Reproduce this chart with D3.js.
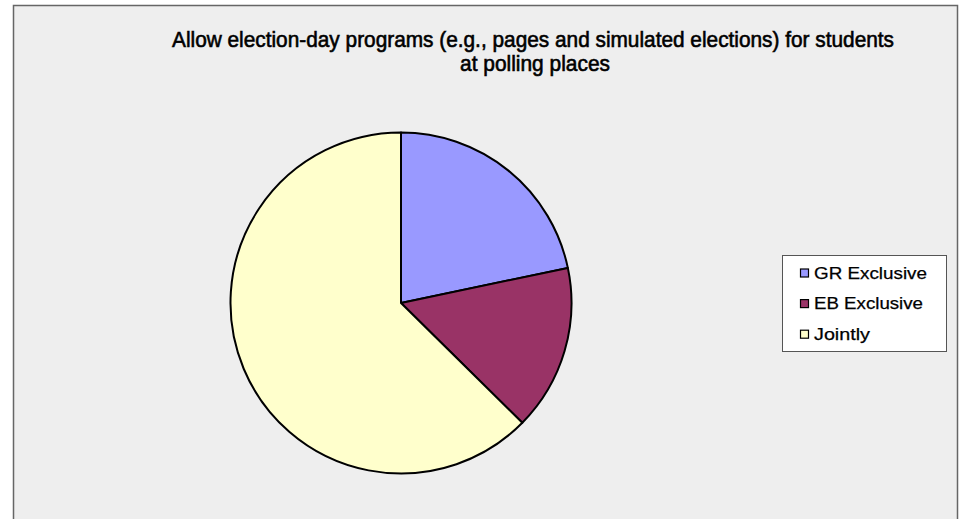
<!DOCTYPE html>
<html><head><meta charset="utf-8">
<script src="https://cdn.jsdelivr.net/npm/d3@7"></script>
<style>body{margin:0;background:#fff;}svg{display:block;}</style>
</head><body>
<svg id="chart" width="959" height="519"></svg>
<script>
const categories = ["GR Exclusive", "EB Exclusive", "Jointly"];
const values = [21.7, 15.7, 62.6];
const colors = ["#9999ff", "#993366", "#ffffcc"];
const titleLines = ["Allow election-day programs (e.g., pages and simulated elections) for students", "at polling places"];

const svg = d3.select("#chart");
svg.append("rect").attr("x", 13.5).attr("y", 5.5).attr("width", 944).attr("height", 520)
  .attr("fill", "#eeeeee").attr("stroke", "#666").attr("stroke-width", 1.5);

// title
const tl = [{x:172, y:46.5, w:722}, {x:460, y:70.5, w:150}];
svg.selectAll("text.title").data(titleLines).enter().append("text")
  .attr("class","title")
  .attr("x", (d,i)=>tl[i].x).attr("y",(d,i)=>tl[i].y)
  .attr("textLength",(d,i)=>tl[i].w).attr("lengthAdjust","spacingAndGlyphs")
  .attr("font-family","Liberation Sans, Arial, sans-serif").attr("font-size",22)
  .attr("fill","#000").attr("stroke","#000").attr("stroke-width",0.6)
  .text(d=>d);

const cx = 401, cy = 303, r = 170.5;
const pie = d3.pie().sort(null).value(d=>d)(values);
const arc = d3.arc().innerRadius(0).outerRadius(r);
const g = svg.append("g").attr("transform",`translate(${cx},${cy})`);
g.selectAll("path").data(pie).enter().append("path")
  .attr("d", arc).attr("fill",(d,i)=>colors[i])
  .attr("stroke","#000").attr("stroke-width",2).attr("stroke-linejoin","round");

// legend
svg.append("rect").attr("x",782.5).attr("y",255.5).attr("width",164).attr("height",96)
  .attr("fill","#fff").attr("stroke","#555").attr("stroke-width",1);
const lg = svg.selectAll("g.leg").data(categories).enter().append("g").attr("class","leg")
  .attr("transform",(d,i)=>`translate(0,${278.5 + i*30.6})`);
lg.append("rect").attr("x",800.5).attr("y",-9.5).attr("width",8).attr("height",8)
  .attr("fill",(d,i)=>colors[i]).attr("stroke","#000").attr("stroke-width",1.2);
const lw = [113, 109, 56];
lg.append("text").attr("x",814).attr("y",0)
  .attr("font-family","Liberation Sans, Arial, sans-serif").attr("font-size",17)
  .attr("textLength",(d,i)=>lw[i]).attr("lengthAdjust","spacingAndGlyphs")
  .attr("fill","#000").attr("stroke","#000").attr("stroke-width",0.25).text(d=>d);
</script>
</body></html>
